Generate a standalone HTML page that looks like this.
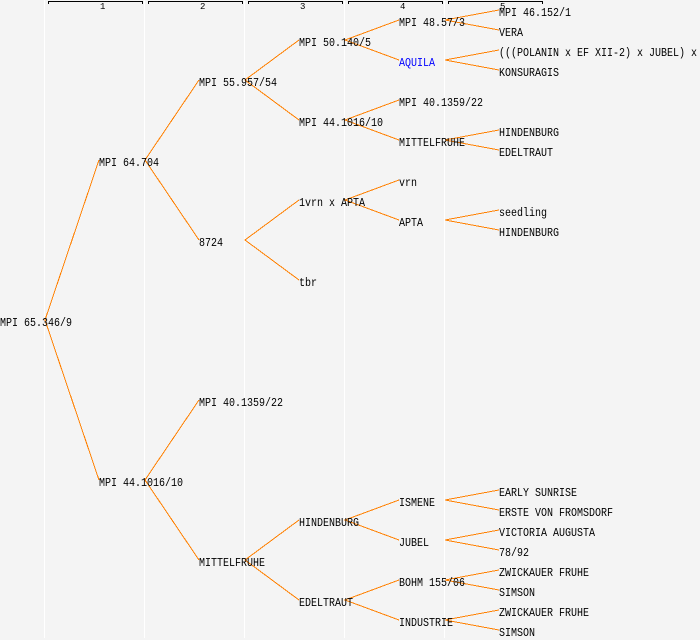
<!DOCTYPE html>
<html><head><meta charset="utf-8"><style>
html,body{margin:0;padding:0;background:#f4f4f4;width:700px;height:640px;overflow:hidden}
svg{display:block}
text{font-family:"Liberation Mono",monospace;font-size:12px;fill:#000}
.n{font-size:9px}
</style></head><body>
<svg width="700" height="640" viewBox="0 0 700 640" xmlns="http://www.w3.org/2000/svg">
<rect width="700" height="640" fill="#f4f4f4"/>
<g fill="#fff" shape-rendering="crispEdges">
<rect x="44" y="0" width="1" height="638"/><rect x="144" y="0" width="1" height="638"/><rect x="244" y="0" width="1" height="638"/><rect x="344" y="0" width="1" height="638"/><rect x="444" y="0" width="1" height="638"/>
</g>
<g stroke="#000" fill="none" shape-rendering="crispEdges">
<path d="M48.5 4V1.5H142.5V4"/><path d="M148.5 4V1.5H242.5V4"/><path d="M248.5 4V1.5H342.5V4"/><path d="M348.5 4V1.5H442.5V4"/><path d="M448.5 4V1.5H542.5V4"/>
</g>
<g stroke="#ff8000" fill="none" shape-rendering="crispEdges">
<path d="M99 160L45 320L99 480"/>
<path d="M199 80L145 160L199 240"/>
<path d="M199 400L145 480L199 560"/>
<path d="M299 40L245 80L299 120"/>
<path d="M299 200L245 240L299 280"/>
<path d="M299 520L245 560L299 600"/>
<path d="M399 20L345 40L399 60"/>
<path d="M399 100L345 120L399 140"/>
<path d="M399 180L345 200L399 220"/>
<path d="M399 500L345 520L399 540"/>
<path d="M399 580L345 600L399 620"/>
<path d="M499 10L445 20L499 30"/>
<path d="M499 50L445 60L499 70"/>
<path d="M499 130L445 140L499 150"/>
<path d="M499 210L445 220L499 230"/>
<path d="M499 490L445 500L499 510"/>
<path d="M499 530L445 540L499 550"/>
<path d="M499 570L445 580L499 590"/>
<path d="M499 610L445 620L499 630"/>
</g>
<g lengthAdjust="spacingAndGlyphs">
<text class="n" x="100" y="9">1</text><text class="n" x="200" y="9">2</text><text class="n" x="300" y="9">3</text><text class="n" x="400" y="9">4</text><text class="n" x="500" y="9">5</text>
<text lengthAdjust="spacingAndGlyphs" textLength="72" x="0" y="326">MPI 65.346/9</text>
<text lengthAdjust="spacingAndGlyphs" textLength="60" x="99" y="166">MPI 64.704</text>
<text lengthAdjust="spacingAndGlyphs" textLength="84" x="99" y="486">MPI 44.1016/10</text>
<text lengthAdjust="spacingAndGlyphs" textLength="78" x="199" y="86">MPI 55.957/54</text>
<text lengthAdjust="spacingAndGlyphs" textLength="24" x="199" y="246">8724</text>
<text lengthAdjust="spacingAndGlyphs" textLength="84" x="199" y="406">MPI 40.1359/22</text>
<text lengthAdjust="spacingAndGlyphs" textLength="66" x="199" y="566">MITTELFRUHE</text>
<text lengthAdjust="spacingAndGlyphs" textLength="72" x="299" y="46">MPI 50.140/5</text>
<text lengthAdjust="spacingAndGlyphs" textLength="84" x="299" y="126">MPI 44.1016/10</text>
<text lengthAdjust="spacingAndGlyphs" textLength="66" x="299" y="206">1vrn x APTA</text>
<text lengthAdjust="spacingAndGlyphs" textLength="18" x="299" y="286">tbr</text>
<text lengthAdjust="spacingAndGlyphs" textLength="60" x="299" y="526">HINDENBURG</text>
<text lengthAdjust="spacingAndGlyphs" textLength="54" x="299" y="606">EDELTRAUT</text>
<text lengthAdjust="spacingAndGlyphs" textLength="66" x="399" y="26">MPI 48.57/3</text>
<text lengthAdjust="spacingAndGlyphs" textLength="36" x="399" y="66" style="fill:#0000ff">AQUILA</text>
<text lengthAdjust="spacingAndGlyphs" textLength="84" x="399" y="106">MPI 40.1359/22</text>
<text lengthAdjust="spacingAndGlyphs" textLength="66" x="399" y="146">MITTELFRUHE</text>
<text lengthAdjust="spacingAndGlyphs" textLength="18" x="399" y="186">vrn</text>
<text lengthAdjust="spacingAndGlyphs" textLength="24" x="399" y="226">APTA</text>
<text lengthAdjust="spacingAndGlyphs" textLength="36" x="399" y="506">ISMENE</text>
<text lengthAdjust="spacingAndGlyphs" textLength="30" x="399" y="546">JUBEL</text>
<text lengthAdjust="spacingAndGlyphs" textLength="66" x="399" y="586">BOHM 155/06</text>
<text lengthAdjust="spacingAndGlyphs" textLength="54" x="399" y="626">INDUSTRIE</text>
<text lengthAdjust="spacingAndGlyphs" textLength="72" x="499" y="16">MPI 46.152/1</text>
<text lengthAdjust="spacingAndGlyphs" textLength="24" x="499" y="36">VERA</text>
<text lengthAdjust="spacingAndGlyphs" textLength="198" x="499" y="56">(((POLANIN x EF XII-2) x JUBEL) x</text>
<text lengthAdjust="spacingAndGlyphs" textLength="60" x="499" y="76">KONSURAGIS</text>
<text lengthAdjust="spacingAndGlyphs" textLength="60" x="499" y="136">HINDENBURG</text>
<text lengthAdjust="spacingAndGlyphs" textLength="54" x="499" y="156">EDELTRAUT</text>
<text lengthAdjust="spacingAndGlyphs" textLength="48" x="499" y="216">seedling</text>
<text lengthAdjust="spacingAndGlyphs" textLength="60" x="499" y="236">HINDENBURG</text>
<text lengthAdjust="spacingAndGlyphs" textLength="78" x="499" y="496">EARLY SUNRISE</text>
<text lengthAdjust="spacingAndGlyphs" textLength="114" x="499" y="516">ERSTE VON FROMSDORF</text>
<text lengthAdjust="spacingAndGlyphs" textLength="96" x="499" y="536">VICTORIA AUGUSTA</text>
<text lengthAdjust="spacingAndGlyphs" textLength="30" x="499" y="556">78/92</text>
<text lengthAdjust="spacingAndGlyphs" textLength="90" x="499" y="576">ZWICKAUER FRUHE</text>
<text lengthAdjust="spacingAndGlyphs" textLength="36" x="499" y="596">SIMSON</text>
<text lengthAdjust="spacingAndGlyphs" textLength="90" x="499" y="616">ZWICKAUER FRUHE</text>
<text lengthAdjust="spacingAndGlyphs" textLength="36" x="499" y="636">SIMSON</text>
</g>
</svg>
</body></html>
